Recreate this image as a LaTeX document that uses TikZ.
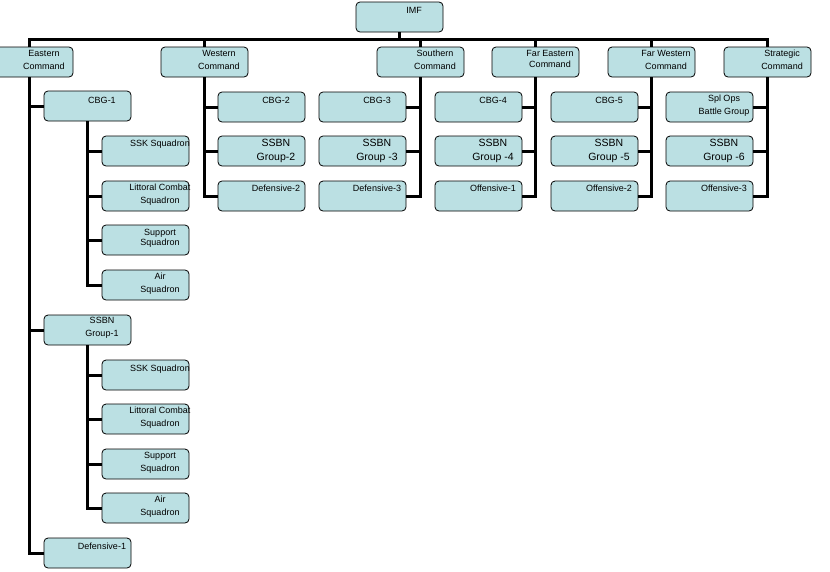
\documentclass[tikz,border=0pt]{standalone}
\usepackage{fontspec}
\setmainfont{Liberation Sans}
\definecolor{boxfill}{RGB}{187,224,227}
\tikzset{
  obox/.style={draw=black, line width=0.8pt, fill=boxfill, rounded corners=4pt,
    minimum width=87pt, minimum height=30pt, inner sep=0pt, outer sep=0pt},
  olbl/.style={inner sep=0pt, anchor=north, align=center, font=\fontsize{9}{13}\selectfont},
  bigtxt/.style={font=\fontsize{10.5}{14}\selectfont},
  conn/.style={draw=black, line width=3pt},
}
\newcommand\OB[6][]{%
  \node[obox] (#2) at (#3+43.5,#4+15) {};
  \node[olbl,#1] (#2-t) at (#3+58,#4+#5-3.2) {#6};
}
\begin{document}
\begin{tikzpicture}[x=1pt,y=-1pt]
\useasboundingbox (0,0) rectangle (830,571);
\clip (0,0) rectangle (830,571);
\coordinate (bus) at (0,39);
% top
\OB{imf}{356}{2}{8}{IMF}
% commands
\OB{east}{-14}{47}{6}{Eastern\\Command}
\OB{west}{161}{47}{6}{Western\\Command}
\OB{south}{377}{47}{6}{Southern\\Command}
\OB[font=\fontsize{9}{11}\selectfont]{fareast}{492}{47}{6}{Far Eastern\\Command}
\OB{farwest}{608}{47}{6}{Far Western\\Command}
\OB{strat}{724}{47}{6}{Strategic\\Command}
% eastern
\OB{cbg1}{44}{91}{9}{CBG-1}
\OB{ssk1}{102}{136}{7}{SSK Squadron}
\OB{lcs1}{102}{181}{6}{Littoral Combat\\Squadron}
\OB[font=\fontsize{9}{10}\selectfont]{sup1}{102}{225}{7}{Support\\Squadron}
\OB{air1}{102}{270}{6}{Air\\Squadron}
\OB{ssbn1}{44}{315}{5}{SSBN\\Group-1}
\OB{ssk2}{102}{360}{8}{SSK Squadron}
\OB{lcs2}{102}{404}{6}{Littoral Combat\\Squadron}
\OB{sup2}{102}{449}{6}{Support\\Squadron}
\OB{air2}{102}{493}{6}{Air\\Squadron}
\OB{def1}{44}{538}{8}{Defensive-1}
% western
\OB{cbg2}{218}{92}{8}{CBG-2}
\OB[bigtxt]{ssbn2}{218}{136}{6.5}{SSBN\\Group-2}
\OB{def2}{218}{181}{7}{Defensive-2}
% southern
\OB{cbg3}{319}{92}{8}{CBG-3}
\OB[bigtxt]{ssbn3}{319}{136}{6.5}{SSBN\\Group -3}
\OB{def3}{319}{181}{7}{Defensive-3}
% far eastern
\OB{cbg4}{435}{92}{8}{CBG-4}
\OB[bigtxt]{ssbn4}{435}{136}{6.5}{SSBN\\Group -4}
\OB{off1}{435}{181}{7}{Offensive-1}
% far western
\OB{cbg5}{551}{92}{8}{CBG-5}
\OB[bigtxt]{ssbn5}{551}{136}{6.5}{SSBN\\Group -5}
\OB{off2}{551}{181}{7}{Offensive-2}
% strategic
\OB{spl}{666}{92}{6}{Spl Ops\\Battle Group}
\OB[bigtxt]{ssbn6}{666}{136}{6.5}{SSBN\\Group -6}
\OB{off3}{666}{181}{7}{Offensive-3}
% connectors
\draw[conn] (imf.south) -- (imf.south |- bus);
\draw[conn] (east.north) -- (east.north |- bus) -- (strat.north |- bus) -- (strat.north);
\foreach \n in {west,south,fareast,farwest} \draw[conn] (\n.north |- bus) -- (\n.north);
% eastern tree
\draw[conn] (east.south) |- (def1.west);
\foreach \c in {cbg1,ssbn1} \draw[conn] (east.south |- \c.west) -- (\c.west);
\draw[conn] (cbg1.south) |- (air1.west);
\foreach \c in {ssk1,lcs1,sup1} \draw[conn] (cbg1.south |- \c.west) -- (\c.west);
\draw[conn] (ssbn1.south) |- (air2.west);
\foreach \c in {ssk2,lcs2,sup2} \draw[conn] (ssbn1.south |- \c.west) -- (\c.west);
% western tree
\draw[conn] (west.south) |- (def2.west);
\foreach \c in {cbg2,ssbn2} \draw[conn] (west.south |- \c.west) -- (\c.west);
% right-hand trees
\draw[conn] (south.south) |- (def3.east);
\foreach \c in {cbg3,ssbn3} \draw[conn] (south.south |- \c.east) -- (\c.east);
\draw[conn] (fareast.south) |- (off1.east);
\foreach \c in {cbg4,ssbn4} \draw[conn] (fareast.south |- \c.east) -- (\c.east);
\draw[conn] (farwest.south) |- (off2.east);
\foreach \c in {cbg5,ssbn5} \draw[conn] (farwest.south |- \c.east) -- (\c.east);
\draw[conn] (strat.south) |- (off3.east);
\foreach \c in {spl,ssbn6} \draw[conn] (strat.south |- \c.east) -- (\c.east);
\end{tikzpicture}
\end{document}
